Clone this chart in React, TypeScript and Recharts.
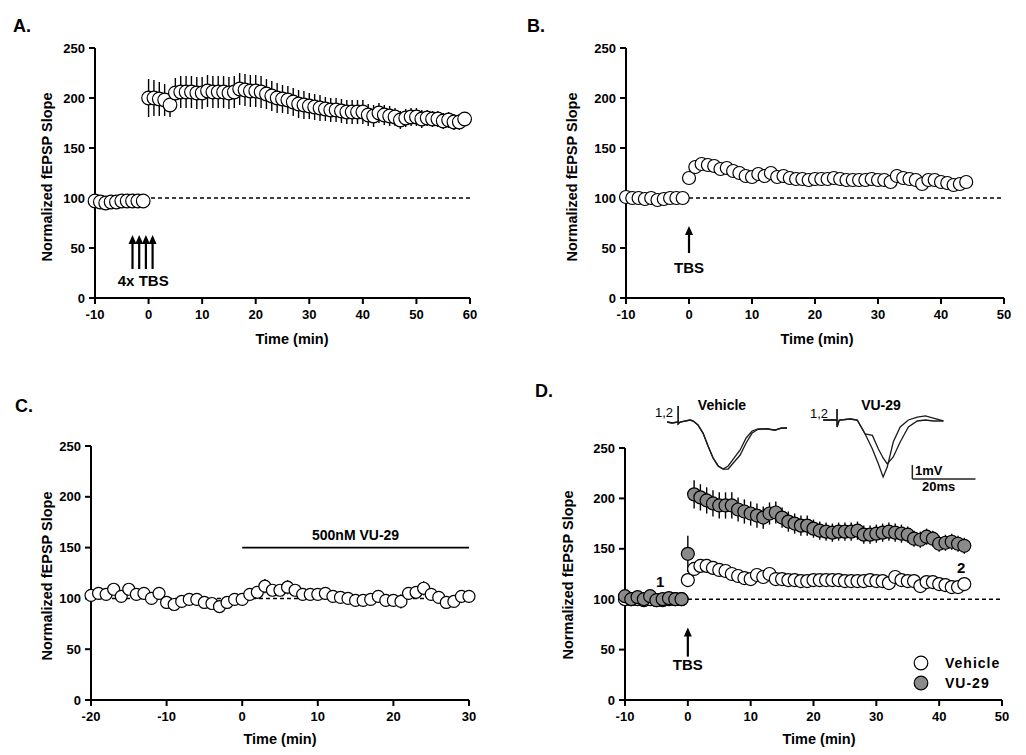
import React from 'react';
import {
  ScatterChart,
  Scatter,
  XAxis,
  YAxis,
  ErrorBar,
  ReferenceLine,
  ReferenceDot,
  LineChart,
  Line,
  Legend,
} from 'recharts';

const FONT = '"Liberation Sans", Arial, Helvetica, sans-serif';

// shared axes
const slopeTicks = [0, 50, 100, 150, 200, 250];
const timeTicksA = [-10, 0, 10, 20, 30, 40, 50, 60];
const timeTicksB = [-10, 0, 10, 20, 30, 40, 50];
const timeTicksC = [-20, -10, 0, 10, 20, 30];

// A. 4x TBS
const timeA = [-10, -9, -8, -7, -6, -5, -4, -3, -2, -1, 0, 1, 2, 3, 4, 5, 6, 7, 8, 9, 10, 11, 12, 13, 14, 15, 16, 17, 18, 19, 20, 21, 22, 23, 24, 25, 26, 27, 28, 29, 30, 31, 32, 33, 34, 35, 36, 37, 38, 39, 40, 41, 42, 43, 44, 45, 46, 47, 48, 49, 50, 51, 52, 53, 54, 55, 56, 57, 58, 59];
const slopeA = [97, 96, 95, 96, 96, 97, 97, 97, 97, 97,
  200, 200, 199, 198, 193, 205, 206, 206, 206, 205,
  205, 207, 206, 206, 206, 205, 206, 209, 208, 207,
  207, 206, 204, 202, 200, 199, 198, 196, 194, 193,
  192, 191, 190, 189, 188, 188, 187, 186, 186, 186,
  186, 183, 182, 185, 183, 182, 181, 178, 180, 181,
  181, 179, 180, 179, 179, 177, 178, 176, 176, 179];
const semA = [3, 3, 3, 3, 3, 3, 3, 3, 3, 3,
  19, 18, 17, 16, 12, 15, 16, 16, 16, 16,
  16, 16, 16, 16, 16, 16, 16, 16, 16, 16,
  16, 16, 15, 15, 15, 14, 14, 14, 14, 14,
  13, 13, 13, 12, 12, 12, 12, 12, 12, 12,
  12, 11, 11, 10, 10, 10, 9, 9, 9, 9,
  9, 9, 8, 8, 8, 8, 8, 8, 8, 7];
const arrowTimesA = [-3, -1.75, -0.5, 0.75];

// B. TBS
const timeB = [-10, -9, -8, -7, -6, -5, -4, -3, -2, -1, 0, 1, 2, 3, 4, 5, 6, 7, 8, 9, 10, 11, 12, 13, 14, 15, 16, 17, 18, 19, 20, 21, 22, 23, 24, 25, 26, 27, 28, 29, 30, 31, 32, 33, 34, 35, 36, 37, 38, 39, 40, 41, 42, 43, 44];
const slopeB = [101, 100, 100, 99, 100, 98, 99, 100, 100, 100,
  120, 131, 134, 133, 132, 129, 130, 127, 125, 122,
  121, 124, 122, 125, 121, 122, 120, 119, 119, 118,
  119, 119, 119, 120, 119, 118, 118, 118, 118, 119,
  118, 118, 116, 122, 120, 119, 118, 114, 118, 118,
  116, 115, 113, 114, 116];
const semB = [2, 2, 2, 2, 2, 3, 2, 2, 2, 2,
  3, 4, 4, 4, 4, 4, 5, 5, 5, 5,
  5, 5, 5, 5, 5, 4, 4, 4, 4, 4,
  4, 4, 4, 4, 4, 4, 4, 4, 4, 4,
  4, 4, 5, 4, 4, 4, 4, 5, 4, 4,
  4, 4, 4, 4, 4];

// C. 500nM VU-29 alone
const timeC = [-20, -19, -18, -17, -16, -15, -14, -13, -12, -11, -10, -9, -8, -7, -6, -5, -4, -3, -2, -1, 0, 1, 2, 3, 4, 5, 6, 7, 8, 9, 10, 11, 12, 13, 14, 15, 16, 17, 18, 19, 20, 21, 22, 23, 24, 25, 26, 27, 28, 29, 30];
const slopeC = [103, 105, 104, 109, 102, 109, 104, 105, 100, 105,
  96, 94, 97, 99, 99, 96, 95, 92, 96, 99,
  99, 104, 106, 112, 108, 108, 111, 108, 104, 104,
  104, 105, 102, 101, 100, 98, 98, 99, 102, 98,
  98, 97, 105, 106, 110, 104, 101, 96, 97, 102, 102];
const semC = [4, 4, 4, 4, 4, 4, 4, 4, 4, 4,
  4, 4, 4, 4, 4, 4, 4, 5, 4, 4,
  4, 4, 4, 7, 5, 5, 7, 5, 4, 4,
  4, 4, 4, 4, 4, 4, 4, 4, 4, 4,
  4, 7, 4, 4, 7, 5, 4, 4, 4, 4, 4];

// D. Vehicle vs VU-29
const timeD = timeB;
const slopeVehicle = [100, 100, 100, 99, 100, 99, 99, 100, 100, 100,
  119, 130, 133, 133, 131, 129, 128, 125, 123, 121,
  120, 124, 122, 125, 120, 120, 119, 119, 118, 118,
  119, 119, 119, 119, 119, 118, 118, 118, 118, 119,
  118, 118, 116, 122, 119, 118, 118, 113, 117, 117,
  115, 114, 112, 112, 115];
const semVehicle = [2, 2, 2, 2, 2, 2, 2, 2, 2, 2,
  4, 5, 5, 5, 5, 5, 5, 5, 5, 5,
  5, 5, 5, 5, 5, 5, 5, 5, 5, 5,
  5, 5, 5, 5, 5, 5, 5, 5, 5, 5,
  5, 5, 5, 5, 5, 5, 5, 5, 5, 5,
  5, 5, 5, 5, 5];
const slopeVU29 = [103, 100, 102, 100, 103, 99, 100, 101, 100, 100,
  145, 204, 201, 198, 195, 193, 193, 193, 189, 187,
  185, 183, 181, 185, 186, 181, 177, 175, 173, 173,
  170, 168, 167, 166, 167, 167, 167, 168, 164, 164,
  165, 166, 167, 166, 165, 164, 160, 159, 162, 160,
  155, 156, 157, 155, 153];
const semVU29 = [5, 4, 4, 4, 5, 5, 4, 4, 3, 3,
  18, 14, 13, 13, 13, 13, 13, 13, 12, 12,
  12, 12, 11, 11, 11, 10, 10, 10, 10, 10,
  9, 9, 9, 9, 9, 9, 9, 9, 9, 9,
  9, 9, 9, 9, 9, 8, 8, 8, 8, 8,
  8, 8, 8, 8, 8];
const seriesNamesD = ['Vehicle', 'VU-29'];
const seriesFillD = ['#ffffff', '#8a8a8a'];

// example fEPSP traces (ms, mV), 1 = baseline, 2 = end of recording
const vehTraceT = [0, 1.6, 3.5, 3.5, 3.5, 4.1, 7.3, 8.3, 9.8, 11.4, 13.0, 14.6, 16.2, 17.8, 19.4, 21.3, 23.2, 25.1, 27.0, 28.9, 31.7, 34.3, 36.2, 38.1];
const vehTrace1 = [0, -0.07, 0, 1.14, -0.14, 0, 0.14, 0.07, -0.21, -0.79, -1.71, -2.57, -3.14, -3.36, -3.14, -2.57, -2.0, -1.14, -0.64, -0.5, -0.5, -0.57, -0.45, -0.43];
const vehTrace2 = [0, -0.07, 0, 1.14, -0.14, 0, 0.14, 0.07, -0.21, -0.79, -1.71, -2.57, -3.14, -3.36, -3.36, -2.86, -2.36, -1.5, -0.79, -0.52, -0.48, -0.6, -0.42, -0.43];
const vuTraceT = [0, 2.2, 4.4, 4.4, 4.4, 5.1, 8.6, 10.8, 12.4, 13.3, 15.6, 17.5, 19.0, 20.3, 22.2, 24.4, 27.0, 29.8, 32.4, 34.9, 38.1];
const vuTrace1 = [0, 0, 0, 0.79, -0.5, 0, 0.07, 0, -0.64, -1.0, -1.1, -2.07, -2.71, -3.14, -2.64, -1.57, -0.5, -0.07, 0, -0.07, -0.07];
const vuTrace2 = [0, 0, 0, 0.79, -0.5, 0, 0.07, 0, -0.64, -1.0, -2.07, -3.14, -4.07, -3.36, -1.57, -0.5, 0, 0.21, 0.29, 0.14, -0.07];
const scaleBarMs = 20;
const scaleBarMv = 1;

const rows = (t: number[], y: number[], e: number[]) => t.map((x, i) => ({ t: x, y: y[i], e: e[i] }));
const traceRows = (t: number[], v: number[]) => t.map((x, i) => ({ t: x, v: v[i] }));

const axisLine = { stroke: '#000', strokeWidth: 2 };
const tickFont = { fill: '#000', fontSize: 13, fontWeight: 'bold', fontFamily: FONT };

const ring = (fill: string, r: number) => (p: any) => (
  <circle cx={p.cx} cy={p.cy} r={r} fill={fill} stroke="#000" strokeWidth={1.2} />
);

const upArrow = (p: any) => {
  const x = p.x1;
  const top = Math.min(p.y1, p.y2);
  const bottom = Math.max(p.y1, p.y2);
  return (
    <g>
      <line x1={x} x2={x} y1={bottom} y2={top + 7} stroke="#000" strokeWidth={2.2} />
      <polygon points={`${x - 4},${top + 9} ${x + 4},${top + 9} ${x},${top}`} fill="#000" />
    </g>
  );
};

const note = (label: string, size = 14) => (p: any) => (
  <text x={p.cx} y={p.cy} textAnchor="middle" dominantBaseline="central" fontSize={size} fontWeight="bold" fontFamily={FONT} fill="#000">
    {label}
  </text>
);

type Margin = { top: number; right: number; bottom: number; left: number };

function Panel(props: {
  left: number; top: number; width: number; height: number; margin: Margin; yWidth: number;
  xDomain: [number, number]; xTicks: number[]; children?: React.ReactNode;
}) {
  const { left, top, width, height, margin, yWidth, xDomain, xTicks, children } = props;
  return (
    <div style={{ position: 'absolute', left, top }}>
      <ScatterChart width={width} height={height} margin={margin}>
        <XAxis type="number" dataKey="t" domain={xDomain} ticks={xTicks} interval={0} height={40}
          tickSize={6} tickMargin={6} axisLine={axisLine} tickLine={axisLine} tick={tickFont} />
        <YAxis type="number" dataKey="y" domain={[0, 250]} ticks={slopeTicks} interval={0} width={yWidth}
          tickSize={6} tickMargin={4} axisLine={axisLine} tickLine={axisLine} tick={tickFont} />
        <ReferenceLine y={100} stroke="#000" strokeWidth={1.5} strokeDasharray="4 3" />
        {children}
      </ScatterChart>
    </div>
  );
}

const legendD = () => (
  <div style={{ fontFamily: FONT, fontSize: 14, fontWeight: 'bold', letterSpacing: 1, color: '#000' }}>
    {seriesNamesD.map((name, i) => (
      <div key={name} style={{ display: 'flex', alignItems: 'center', height: 20 }}>
        <svg width={16} height={16} style={{ marginRight: 16 }}>
          <circle cx={8} cy={8} r={6.8} fill={seriesFillD[i]} stroke="#000" strokeWidth={1.2} />
        </svg>
        <span>{name}</span>
      </div>
    ))}
  </div>
);

function Trace(props: { left: number; top: number; width: number; height: number; xDomain: [number, number]; yDomain: [number, number]; traces: number[][]; time: number[]; children?: React.ReactNode }) {
  const { left, top, width, height, xDomain, yDomain, traces, time, children } = props;
  return (
    <div style={{ position: 'absolute', left, top }}>
      <LineChart width={width} height={height} margin={{ top: 0, right: 0, bottom: 0, left: 0 }}>
        <XAxis type="number" dataKey="t" domain={xDomain} hide allowDataOverflow />
        <YAxis type="number" domain={yDomain} hide allowDataOverflow />
        {traces.map((v, i) => (
          <Line key={i} data={traceRows(time, v)} dataKey="v" type="linear" stroke="#1a1a1a" strokeWidth={1.3}
            dot={false} isAnimationActive={false} />
        ))}
        {children}
      </LineChart>
    </div>
  );
}

const txt = { fontFamily: FONT, fill: '#000' };
const bar = { dataKey: 'e', direction: 'y' as const, width: 0, stroke: '#000', strokeWidth: 1.4 };

export default function App() {
  return (
    <div style={{ position: 'absolute', left: 0, top: 0, width: 1026, height: 755, background: '#fff' }}>
      {/* A */}
      <Panel left={0} top={0} width={500} height={360} margin={{ top: 48, right: 30, bottom: 22, left: 42 }}
        yWidth={53} xDomain={[-10, 60]} xTicks={timeTicksA}>
        {arrowTimesA.map((t) => (
          <ReferenceLine key={t} segment={[{ x: t, y: 29 }, { x: t, y: 63 }]} shape={upArrow} />
        ))}
        <ReferenceDot x={-1} y={18} r={0} shape={note('4x TBS', 15)} />
        <Scatter data={rows(timeA, slopeA, semA)} fill="#fff" shape={ring('#fff', 6.8)} isAnimationActive={false}>
          <ErrorBar {...bar} />
        </Scatter>
      </Panel>

      {/* B */}
      <Panel left={500} top={0} width={526} height={360} margin={{ top: 48, right: 22, bottom: 22, left: 65 }}
        yWidth={61} xDomain={[-10, 50]} xTicks={timeTicksB}>
        <ReferenceLine segment={[{ x: 0, y: 45 }, { x: 0, y: 72 }]} shape={upArrow} />
        <ReferenceDot x={0} y={31} r={0} shape={note('TBS', 15)} />
        <Scatter data={rows(timeB, slopeB, semB)} fill="#fff" shape={ring('#fff', 6.5)} isAnimationActive={false}>
          <ErrorBar {...bar} />
        </Scatter>
      </Panel>

      {/* C */}
      <Panel left={0} top={380} width={500} height={375} margin={{ top: 66, right: 31, bottom: 15, left: 42 }}
        yWidth={49} xDomain={[-20, 30]} xTicks={timeTicksC}>
        <ReferenceLine segment={[{ x: 0, y: 150 }, { x: 30, y: 150 }]} stroke="#000" strokeWidth={1.8} />
        <ReferenceDot x={15} y={162} r={0} shape={note('500nM VU-29', 14)} />
        <Scatter data={rows(timeC, slopeC, semC)} fill="#fff" shape={ring('#fff', 6)} isAnimationActive={false}>
          <ErrorBar {...bar} />
        </Scatter>
      </Panel>

      {/* D */}
      <Panel left={500} top={380} width={526} height={375} margin={{ top: 68, right: 24, bottom: 15, left: 63 }}
        yWidth={62} xDomain={[-10, 50]} xTicks={timeTicksB}>
        <ReferenceLine segment={[{ x: 0, y: 43 }, { x: 0, y: 72 }]} shape={upArrow} />
        <ReferenceDot x={0} y={35} r={0} shape={note('TBS', 15)} />
        <ReferenceDot x={-4.4} y={118} r={0} shape={note('1', 15)} />
        <ReferenceDot x={43.5} y={131} r={0} shape={note('2', 15)} />
        <Scatter name={seriesNamesD[0]} data={rows(timeD, slopeVehicle, semVehicle)} fill={seriesFillD[0]}
          shape={ring(seriesFillD[0], 6.5)} isAnimationActive={false}>
          <ErrorBar {...bar} />
        </Scatter>
        <Scatter name={seriesNamesD[1]} data={rows(timeD, slopeVU29, semVU29)} fill={seriesFillD[1]}
          shape={ring(seriesFillD[1], 6.5)} isAnimationActive={false}>
          <ErrorBar {...bar} />
        </Scatter>
        <Legend content={legendD} layout="horizontal" verticalAlign="middle" align="center"
          wrapperStyle={{ left: 413, top: 273, width: 120, height: 40 }} />
      </Panel>

      {/* D insets: example traces */}
      <Trace left={664} top={394} width={129} height={84} xDomain={[-1, 40]} yDomain={[-4, 2]}
        time={vehTraceT} traces={[vehTrace2, vehTrace1]} />
      <Trace left={820} top={392} width={161} height={91} xDomain={[-1, 50]} yDomain={[-4.5, 2]}
        time={vuTraceT} traces={[vuTrace1, vuTrace2]}>
        <ReferenceLine segment={[{ x: 28.25, y: -4.21 + scaleBarMv }, { x: 28.25, y: -4.21 }]} stroke="#222" strokeWidth={1.5} />
        <ReferenceLine segment={[{ x: 28.25, y: -4.21 }, { x: 28.25 + scaleBarMs, y: -4.21 }]} stroke="#222" strokeWidth={1.5} />
      </Trace>

      <svg width={1026} height={755} style={{ position: 'absolute', left: 0, top: 0, pointerEvents: 'none' }}>
        <g {...txt} fontSize={18} fontWeight="bold">
          <text x={13} y={32}>A.</text>
          <text x={527} y={32}>B.</text>
          <text x={15} y={412}>C.</text>
          <text x={535} y={397}>D.</text>
        </g>
        <g {...txt} fontSize={14.5} fontWeight="bold" textAnchor="middle">
          <text x={292} y={344}>Time (min)</text>
          <text x={817} y={344}>Time (min)</text>
          <text x={280} y={744}>Time (min)</text>
          <text x={819} y={744}>Time (min)</text>
          <text x={47} y={177} dy="0.35em" transform="rotate(-90 47 177)">Normalized fEPSP Slope</text>
          <text x={572} y={177} dy="0.35em" transform="rotate(-90 572 177)">Normalized fEPSP Slope</text>
          <text x={47} y={576} dy="0.35em" transform="rotate(-90 47 576)">Normalized fEPSP Slope</text>
          <text x={568} y={575} dy="0.35em" transform="rotate(-90 568 575)">Normalized fEPSP Slope</text>
        </g>
        <g {...txt} fontSize={14} fontWeight="bold" textAnchor="middle">
          <text x={722} y={410}>Vehicle</text>
          <text x={881} y={410}>VU-29</text>
        </g>
        <g {...txt} fontSize={13}>
          <text x={655} y={417}>1,2</text>
          <text x={810} y={418}>1,2</text>
        </g>
        <g {...txt} fontSize={13} fontWeight="bold">
          <text x={915} y={475}>1mV</text>
          <text x={922} y={491}>20ms</text>
        </g>
      </svg>
    </div>
  );
}
